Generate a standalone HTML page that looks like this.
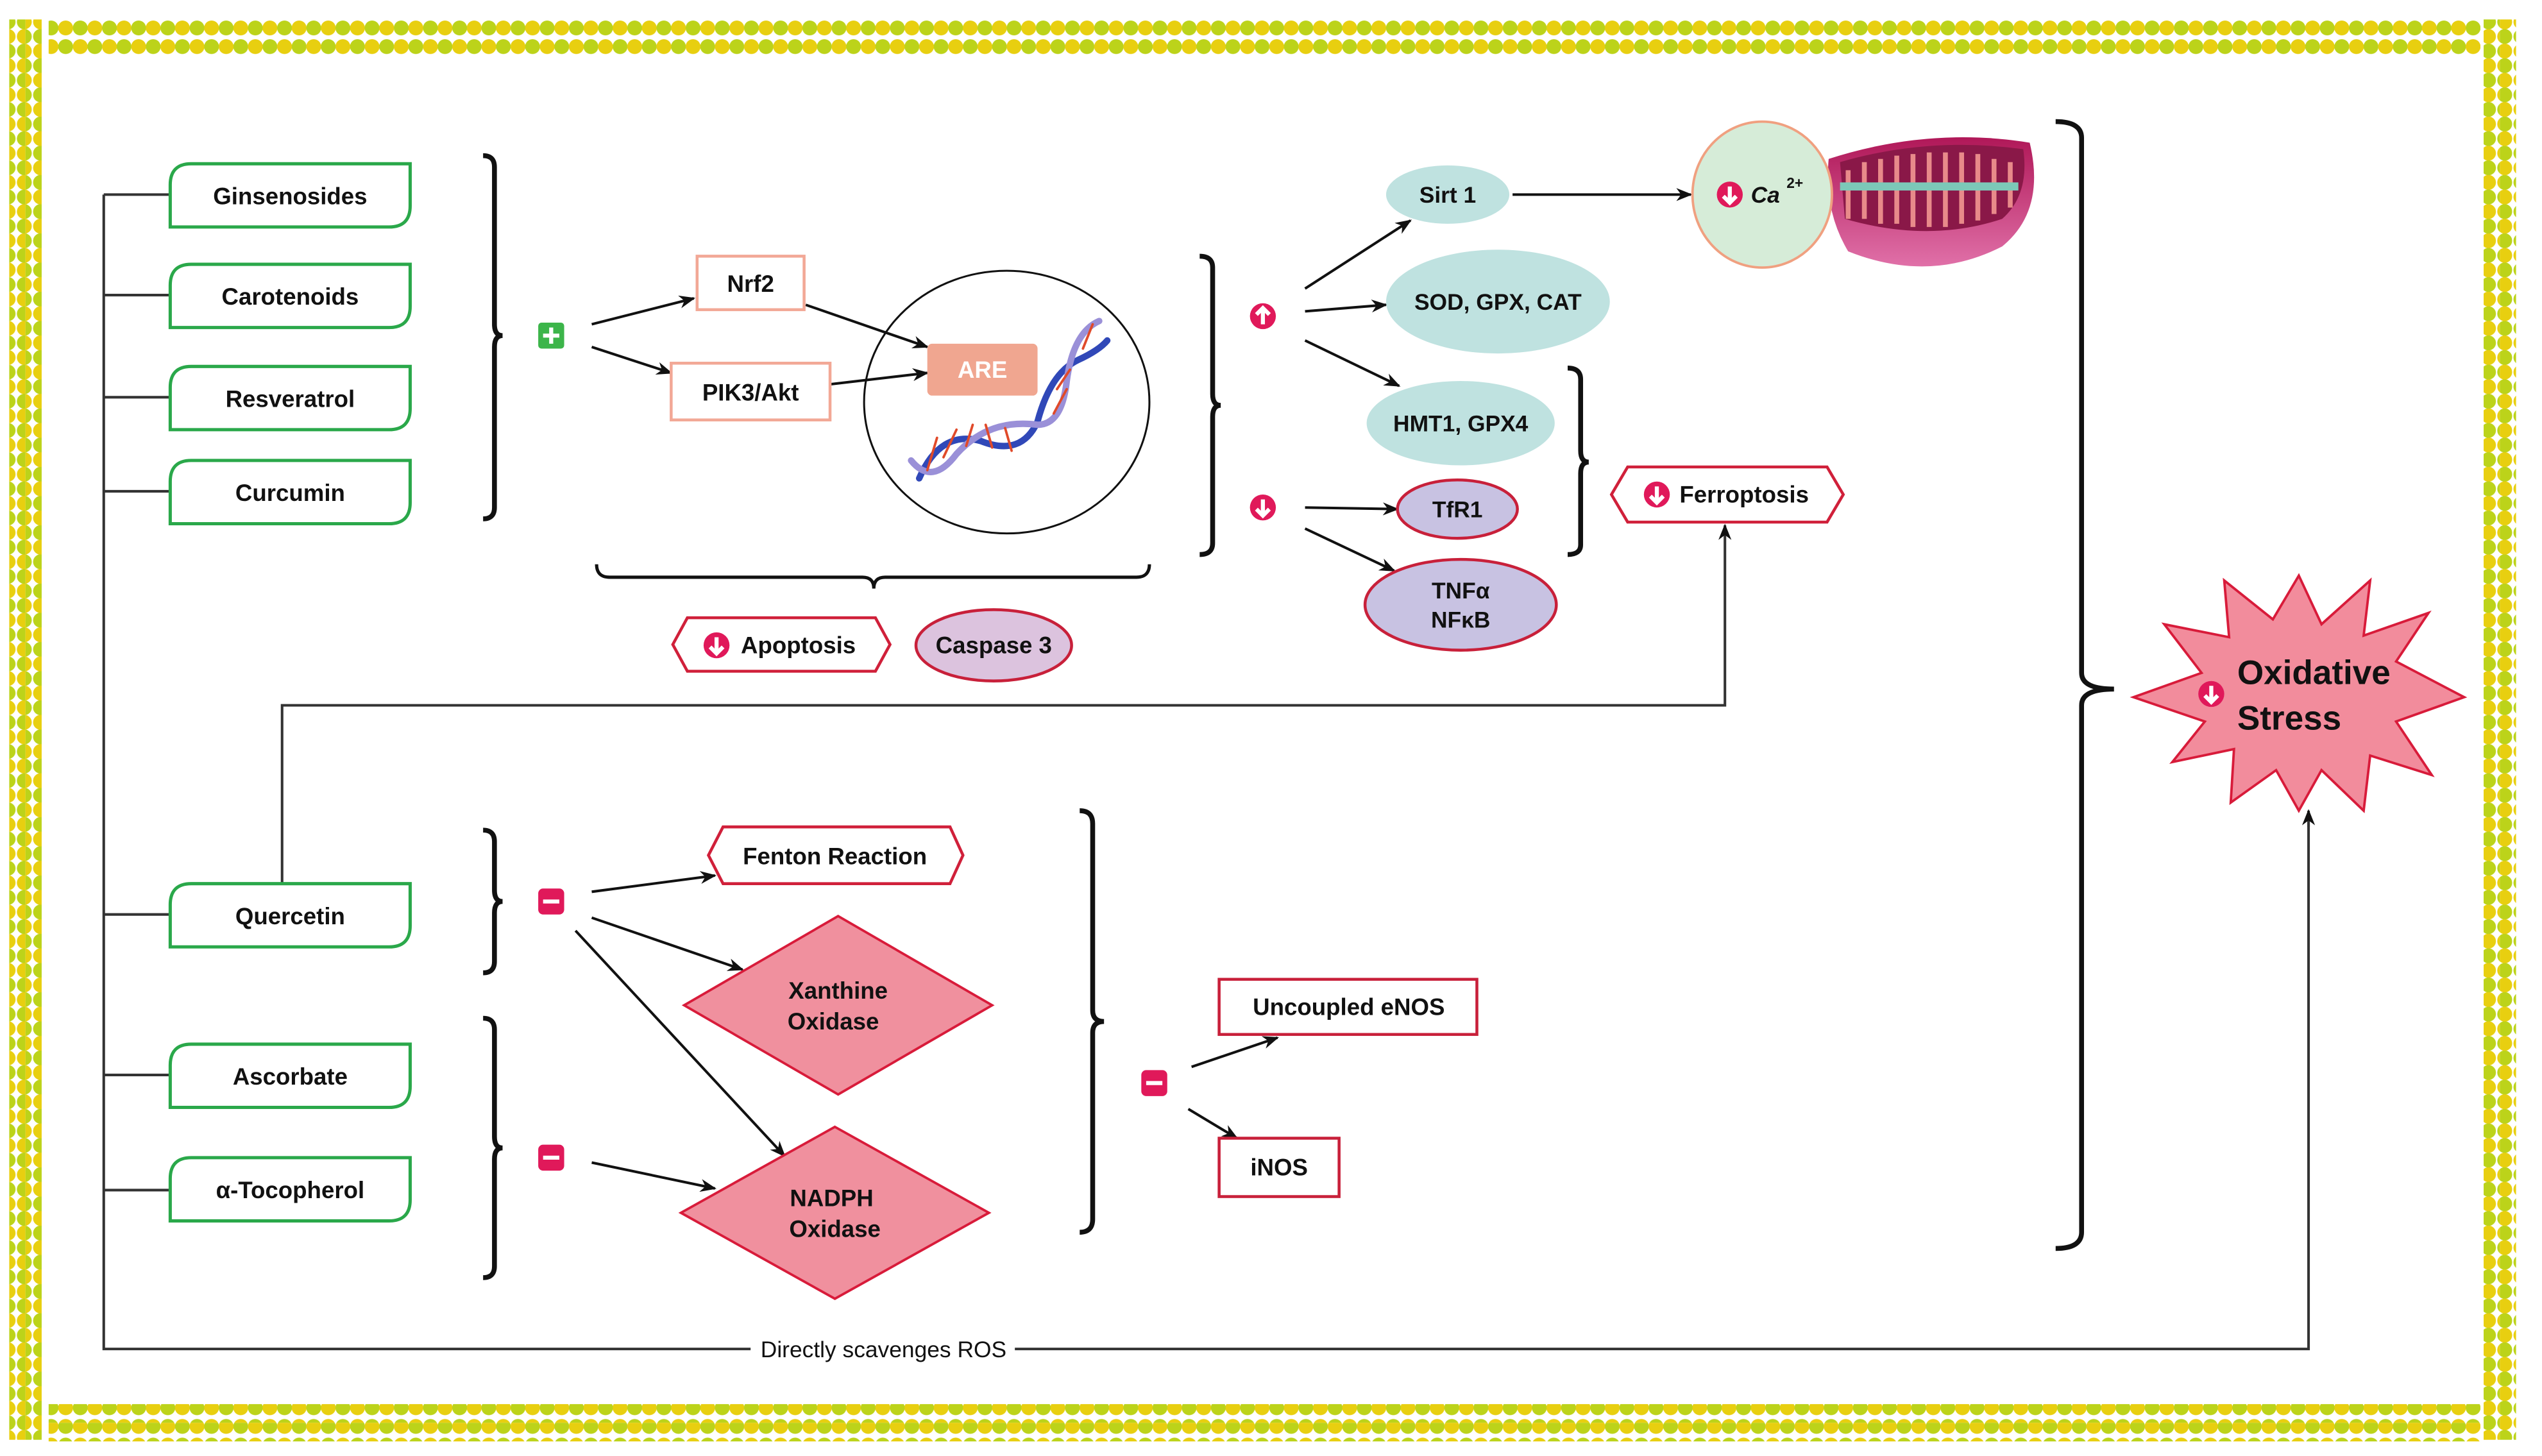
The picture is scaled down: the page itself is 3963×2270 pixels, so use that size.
<!DOCTYPE html>
<html><head><meta charset="utf-8"><style>
html,body{margin:0;padding:0;background:#fff}
svg{display:block}
text{font-family:"Liberation Sans",Arial,sans-serif;font-weight:bold;fill:#111}
</style></head><body>
<svg width="3963" height="2270" viewBox="0 0 1568 898" preserveAspectRatio="none" xmlns="http://www.w3.org/2000/svg">
<defs>
<pattern id="ph" x="0" y="0" width="18" height="11.5" patternUnits="userSpaceOnUse"><circle cx="4.5" cy="5.75" r="4.6" fill="#e8cf10"/><circle cx="13.5" cy="5.75" r="4.6" fill="#bcd31a"/></pattern>
<pattern id="ph2" x="0" y="0" width="18" height="11.5" patternUnits="userSpaceOnUse"><circle cx="4.5" cy="5.75" r="4.6" fill="#bcd31a"/><circle cx="13.5" cy="5.75" r="4.6" fill="#e8cf10"/></pattern>
<pattern id="pv" x="0" y="0" width="10" height="18" patternUnits="userSpaceOnUse"><circle cx="5" cy="4.5" r="4.6" fill="#e8cf10"/><circle cx="5" cy="13.5" r="4.6" fill="#bcd31a"/></pattern>
<pattern id="pv2" x="0" y="0" width="10" height="18" patternUnits="userSpaceOnUse"><circle cx="5" cy="4.5" r="4.6" fill="#bcd31a"/><circle cx="5" cy="13.5" r="4.6" fill="#e8cf10"/></pattern>
<marker id="ar" markerWidth="10" markerHeight="10" refX="9" refY="5" orient="auto" markerUnits="userSpaceOnUse"><path d="M0,1 L10,5 L0,9 L3,5z" fill="#111"/></marker>
<linearGradient id="mg" x1="0" y1="0" x2="0" y2="1"><stop offset="0" stop-color="#b01858"/><stop offset="1" stop-color="#e070a8"/></linearGradient>
</defs>
<!-- border -->
<rect x="30" y="11.3" width="1500" height="11.5" fill="url(#ph)"/>
<rect x="30" y="22.8" width="1500" height="11.5" fill="url(#ph2)"/>
<rect x="30" y="866" width="1500" height="11.5" fill="url(#ph)"/>
<rect x="30" y="877.5" width="1500" height="11.5" fill="url(#ph2)"/>
<rect x="5.7" y="12" width="10" height="876" fill="url(#pv)"/>
<rect x="15.7" y="12" width="10" height="876" fill="url(#pv2)"/>
<rect x="1532" y="12" width="10" height="876" fill="url(#pv)"/>
<rect x="1542" y="12" width="10" height="876" fill="url(#pv2)"/>

<g stroke="#333" stroke-width="1.6" fill="none">
<path d="M64,120 V832 H463 M626,832 H1424 V502" />
<path d="M64,120 H105 M64,182 H105 M64,245 H105 M64,303 H105 M64,564 H105 M64,663 H105 M64,734 H105"/>
<path d="M1424,510 V500" marker-end="url(#ar)"/>
<path d="M174,545 V435 H1064 V324" marker-end="url(#ar)"/>
</g>
<text x="545" y="837" font-size="14" text-anchor="middle" style="font-weight:normal">Directly scavenges ROS</text>

<!-- left boxes -->
<g stroke="#2aa84a" stroke-width="2" fill="#fff">
<path d="M118,101 H253 V127 Q253,140 240,140 H105 V114 Q105,101 118,101z"/>
<path d="M118,163 H253 V189 Q253,202 240,202 H105 V176 Q105,163 118,163z"/>
<path d="M118,226 H253 V252 Q253,265 240,265 H105 V239 Q105,226 118,226z"/>
<path d="M118,284 H253 V310 Q253,323 240,323 H105 V297 Q105,284 118,284z"/>
<path d="M118,545 H253 V571 Q253,584 240,584 H105 V558 Q105,545 118,545z"/>
<path d="M118,644 H253 V670 Q253,683 240,683 H105 V657 Q105,644 118,644z"/>
<path d="M118,714 H253 V740 Q253,753 240,753 H105 V727 Q105,714 118,714z"/>
</g>
<g font-size="14.5" text-anchor="middle">
<text x="179" y="126">Ginsenosides</text>
<text x="179" y="188">Carotenoids</text>
<text x="179" y="251">Resveratrol</text>
<text x="179" y="309">Curcumin</text>
<text x="179" y="570">Quercetin</text>
<text x="179" y="669">Ascorbate</text>
<text x="179" y="739">α-Tocopherol</text>
</g>

<!-- brackets -->
<g stroke="#111" stroke-width="3" fill="none">
<path d="M298,96 Q305,96 305,103 V200 Q305,207 310,207 Q305,207 305,214 V313 Q305,320 298,320"/>
<path d="M740,158 Q748,158 748,165 V243 Q748,250 753,250 Q748,250 748,257 V335 Q748,342 740,342"/>
<path d="M967,227 Q975,227 975,234 V278 Q975,285 980,285 Q975,285 975,292 V336 Q975,342 967,342"/>
<path d="M1268,75 Q1284,75 1284,85 V415 Q1284,425 1304,425 Q1284,425 1284,435 V760 Q1284,770 1268,770"/>
<path d="M298,512 Q305,512 305,519 V549 Q305,556 310,556 Q305,556 305,563 V593 Q305,600 298,600"/>
<path d="M298,628 Q305,628 305,635 V701 Q305,708 310,708 Q305,708 305,715 V781 Q305,788 298,788"/>
<path d="M666,500 Q674,500 674,508 V623 Q674,630 681,630 Q674,630 674,637 V752 Q674,760 666,760"/>
</g>
<path d="M368,348 Q368,356 376,356 H532 Q539,356 539,363 Q539,356 546,356 H701 Q709,356 709,348" stroke="#111" stroke-width="2" fill="none"/>

<!-- arrows -->
<g stroke="#111" stroke-width="1.6" fill="none" marker-end="url(#ar)">
<path d="M365,200 L428,184"/><path d="M365,214 L414,230"/>
<path d="M497,188 L572,214"/><path d="M512,237 L572,230"/>
<path d="M805,178 L870,136"/><path d="M805,192 L855,188"/><path d="M805,210 L863,238"/>
<path d="M805,313 L862,314"/><path d="M805,326 L860,352"/>
<path d="M933,120 L1043,120"/>
<path d="M365,550 L441,540"/><path d="M365,566 L458,598"/><path d="M355,574 L484,713"/>
<path d="M365,717 L441,733"/>
<path d="M735,658 L788,640"/><path d="M733,684 L763,702"/>
</g>

<!-- Nrf2 area -->
<rect x="430" y="158" width="66" height="33" fill="#fff" stroke="#f2a896" stroke-width="1.8"/>
<rect x="414" y="224" width="98" height="35" fill="#fff" stroke="#f2a896" stroke-width="1.8"/>
<text x="463" y="180" font-size="14.5" text-anchor="middle">Nrf2</text>
<text x="463" y="247" font-size="14.5" text-anchor="middle">PIK3/Akt</text>
<ellipse cx="621" cy="248" rx="88" ry="81" fill="none" stroke="#111" stroke-width="1.2"/>
<g fill="none" stroke-linecap="round">
<path d="M567,295 Q580,265 605,272 Q630,282 640,260 Q648,230 665,222 Q678,216 683,210" stroke="#3048b8" stroke-width="4"/>
<path d="M562,284 Q575,300 590,280 Q610,258 640,262 Q655,262 658,235 Q662,205 678,198" stroke="#9a90d8" stroke-width="4"/>
<path d="M572,290 L578,270 M582,282 L590,265 M596,275 L600,262 M612,276 L608,262 M624,278 L620,264 M650,255 L658,240 M652,240 L660,228 M668,215 L674,200" stroke="#e04a2a" stroke-width="1.5"/>
</g>
<rect x="572" y="212" width="68" height="32" rx="3" fill="#f0a690"/>
<text x="606" y="233" font-size="14.5" text-anchor="middle" style="fill:#fff">ARE</text>

<!-- apoptosis -->
<path d="M424,381 H540 L549,397.5 L540,414 H424 L415,397.5z" fill="#fff" stroke="#d0203a" stroke-width="1.8"/>
<text x="457" y="403" font-size="14.5">Apoptosis</text>
<ellipse cx="613" cy="398" rx="48" ry="22" fill="#dcc3de" stroke="#c8203a" stroke-width="1.8"/>
<text x="613" y="403" font-size="14.5" text-anchor="middle">Caspase 3</text>

<!-- right ellipses -->
<ellipse cx="893" cy="120" rx="38" ry="18" fill="#bfe2e0"/>
<text x="893" y="125" font-size="14" text-anchor="middle">Sirt 1</text>
<ellipse cx="924" cy="186" rx="69" ry="32" fill="#bfe2e0"/>
<text x="924" y="191" font-size="14" text-anchor="middle">SOD, GPX, CAT</text>
<ellipse cx="901" cy="261" rx="58" ry="26" fill="#bfe2e0"/>
<text x="901" y="266" font-size="14" text-anchor="middle">HMT1, GPX4</text>
<ellipse cx="899" cy="314" rx="37" ry="18" fill="#c8c2e2" stroke="#c8203a" stroke-width="1.8"/>
<text x="899" y="319" font-size="14" text-anchor="middle">TfR1</text>
<ellipse cx="901" cy="373" rx="59" ry="28" fill="#c8c2e2" stroke="#c8203a" stroke-width="1.8"/>
<text x="901" y="369" font-size="14" text-anchor="middle">TNFα</text>
<text x="901" y="387" font-size="14" text-anchor="middle">NFκB</text>

<!-- Ca & mitochondrion -->
<path d="M1128,98 Q1190,78 1252,88 Q1262,130 1235,152 Q1190,175 1140,155 Q1125,130 1128,98z" fill="url(#mg)"/>
<path d="M1135,100 Q1190,84 1248,92 Q1252,120 1235,135 Q1190,150 1138,135z" fill="#8a1848"/>
<g stroke="#e88a8a" stroke-width="3" fill="none">
<path d="M1140,135 V105 M1150,135 V100 M1160,138 V98 M1170,138 V96 M1180,140 V95 M1190,140 V94 M1200,140 V94 M1210,138 V94 M1220,136 V95 M1230,132 V98 M1240,128 V100"/>
</g>
<path d="M1135,115 H1245" stroke="#7cc8b8" stroke-width="5"/>
<ellipse cx="1087" cy="120" rx="43" ry="45" fill="#d6ecd8" stroke="#f0a080" stroke-width="1.5"/>
<text x="1080" y="125" font-size="14" style="font-style:italic">Ca</text>
<text x="1102" y="116" font-size="9">2+</text>

<!-- ferroptosis -->
<path d="M1004,288 H1127 L1137,305 L1127,322 H1004 L994,305z" fill="#fff" stroke="#d0203a" stroke-width="1.8"/>
<text x="1036" y="310" font-size="14.5">Ferroptosis</text>

<!-- star -->
<path d="M1418,355 L1432,385 L1462,358 L1458,392 L1498,378 L1478,408 L1520,430 L1478,445 L1500,478 L1462,466 L1458,500 L1432,475 L1418,500 L1404,475 L1376,495 L1378,462 L1340,470 L1360,445 L1316,430 L1358,415 L1335,385 L1375,393 L1372,358 L1402,382z" fill="#f28c9c" stroke="#d81b3a" stroke-width="1.5"/>
<text x="1380" y="422" font-size="21">Oxidative</text>
<text x="1380" y="450" font-size="21">Stress</text>

<!-- lower -->
<path d="M446,510 H586 L594,527.5 L586,545 H446 L437,527.5z" fill="#fff" stroke="#d0203a" stroke-width="1.8"/>
<text x="515" y="533" font-size="14.5" text-anchor="middle">Fenton Reaction</text>
<path d="M517,565 L612,620 L517,675 L422,620z" fill="#f0909e" stroke="#d81b3a" stroke-width="1.5"/>
<text x="517" y="616" font-size="14.5" text-anchor="middle">Xanthine</text>
<text x="514" y="635" font-size="14.5" text-anchor="middle">Oxidase</text>
<path d="M515,695 L610,748 L515,801 L420,748z" fill="#f0909e" stroke="#d81b3a" stroke-width="1.5"/>
<text x="513" y="744" font-size="14.5" text-anchor="middle">NADPH</text>
<text x="515" y="763" font-size="14.5" text-anchor="middle">Oxidase</text>
<rect x="752" y="604" width="159" height="34" fill="#fff" stroke="#c8203a" stroke-width="1.8"/>
<text x="832" y="626" font-size="14.5" text-anchor="middle">Uncoupled eNOS</text>
<rect x="752" y="702" width="74" height="36" fill="#fff" stroke="#c8203a" stroke-width="1.8"/>
<text x="789" y="725" font-size="14.5" text-anchor="middle">iNOS</text>

<!-- icons (on top) -->
<rect x="332" y="199" width="16" height="16" rx="2" fill="#3cb54a"/><path d="M340,202 V212 M335,207 H345" stroke="#fff" stroke-width="2.5"/>
<g fill="#e0195a">
<rect x="332" y="548" width="16" height="16" rx="3"/><rect x="332" y="706" width="16" height="16" rx="3"/><rect x="704" y="660" width="16" height="16" rx="3"/>
<circle cx="779" cy="195" r="8"/><circle cx="779" cy="313" r="8"/><circle cx="442" cy="398" r="8"/><circle cx="1022" cy="305" r="8"/><circle cx="1067" cy="120" r="8"/><circle cx="1364" cy="428" r="8"/>
</g>
<g stroke="#fff" stroke-width="2.5" fill="none">
<path d="M335,556 H345 M335,714 H345 M707,668 H717"/>
<path d="M779,200 V190 M775,194 L779,190 L783,194"/>
<path d="M779,308 V318 M775,314 L779,318 L783,314"/>
<path d="M442,393 V403 M438,399 L442,403 L446,399"/>
<path d="M1022,300 V310 M1018,306 L1022,310 L1026,306"/>
<path d="M1067,115 V125 M1063,121 L1067,125 L1071,121"/>
<path d="M1364,423 V433 M1360,429 L1364,433 L1368,429"/>
</g>
</svg>
</body></html>
